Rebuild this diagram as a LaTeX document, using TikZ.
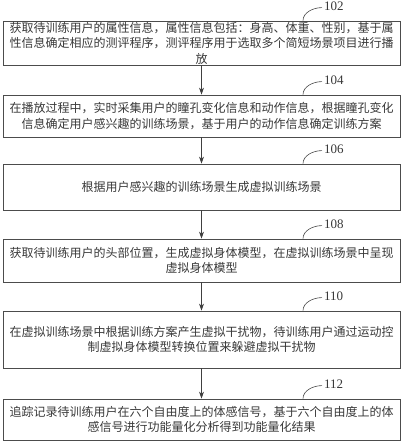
\documentclass[tikz,border=0pt]{standalone}
\usepackage{fontspec}
\setmainfont{Liberation Serif}
\newfontfamily\cjk{Noto Sans CJK SC}
\usetikzlibrary{arrows.meta}
\begin{document}
\begin{tikzpicture}[x=1pt,y=-1pt,
  stepbox/.style={draw=black!70, line width=0.8pt, minimum width=397pt, inner sep=0pt, align=center, font=\cjk\fontsize{12}{15.5}\selectfont, text=black!78},
  flow/.style={draw=black!75, line width=0.8pt, -{Stealth[length=7pt,width=5pt]}},
  hook/.style={draw=black!70, line width=0.6pt},
  lbl/.style={font=\fontsize{13}{13}\selectfont, text=black!78, anchor=west, inner sep=0pt}]
\useasboundingbox (0,0) rectangle (406,444);
\node[stepbox, minimum height=44pt] (s1) at (201.5,43) {获取待训练用户的属性信息，属性信息包括：身高、体重、性别，基于属\\性信息确定相应的测评程序，测评程序用于选取多个简短场景项目进行播\\放};
\node[stepbox, minimum height=42pt] (s2) at (201.5,116) {在播放过程中，实时采集用户的瞳孔变化信息和动作信息，根据瞳孔变化\\信息确定用户感兴趣的训练场景，基于用户的动作信息确定训练方案};
\node[stepbox, minimum height=46pt] (s3) at (201.5,187) {根据用户感兴趣的训练场景生成虚拟训练场景};
\node[stepbox, minimum height=43pt] (s4) at (201.5,260.5) {获取待训练用户的头部位置，生成虚拟身体模型，在虚拟训练场景中呈现\\虚拟身体模型};
\node[stepbox, minimum height=57pt] (s5) at (201.5,339.5) {在虚拟训练场景中根据训练方案产生虚拟干扰物，待训练用户通过运动控\\制虚拟身体模型转换位置来躲避虚拟干扰物};
\node[stepbox, minimum height=41pt] (s6) at (201.5,419.5) {追踪记录待训练用户在六个自由度上的体感信号，基于六个自由度上的体\\感信号进行功能量化分析得到功能量化结果};
\foreach \a/\b in {s1/s2,s2/s3,s3/s4,s4/s5,s5/s6} \draw[flow] (\a) -- (\b);
\foreach \s/\n in {s1/102,s2/104,s3/106,s4/108,s5/110,s6/112} {
  \coordinate (h\n) at ([xshift=101.5pt]\s.north);
  \draw[hook] (h\n) .. controls +(0,-8) and +(-9,0) .. ++(19,-13);
  \node[lbl] (l\n) at ([shift={(21,-14)}]h\n) {\n};
}
\end{tikzpicture}
\end{document}
